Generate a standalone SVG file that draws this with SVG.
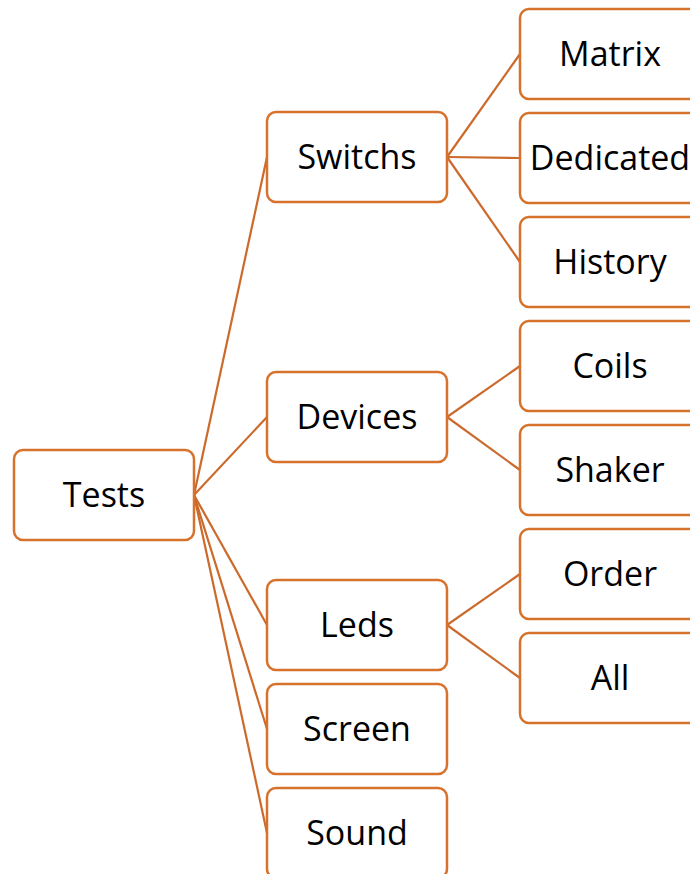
<svg xmlns="http://www.w3.org/2000/svg" width="690" height="874" viewBox="0 0 690 874">
  <style>
    .box { fill: #FFFFFF; stroke: #D6722C; stroke-width: 2.5; }
    .lbl { font-family: "Open Sans", "Liberation Sans", sans-serif; font-size: 34px; fill: #000000; text-anchor: middle; }
    .link { stroke: #CB6A2B; stroke-width: 2.2; fill: none; }
  </style>
  <rect width="690" height="874" fill="#FFFFFF"/>

  <!-- tree connectors -->
  <g id="connectors">
    <line class="link" x1="194" y1="495" x2="267" y2="157"/>
    <line class="link" x1="194" y1="495" x2="267" y2="417"/>
    <line class="link" x1="194" y1="495" x2="267" y2="625"/>
    <line class="link" x1="194" y1="495" x2="267" y2="729"/>
    <line class="link" x1="194" y1="495" x2="267" y2="833"/>
    <line class="link" x1="447" y1="157" x2="520" y2="54"/>
    <line class="link" x1="447" y1="157" x2="520" y2="158"/>
    <line class="link" x1="447" y1="157" x2="520" y2="262"/>
    <line class="link" x1="447" y1="417" x2="520" y2="366"/>
    <line class="link" x1="447" y1="417" x2="520" y2="470"/>
    <line class="link" x1="447" y1="625" x2="520" y2="574"/>
    <line class="link" x1="447" y1="625" x2="520" y2="678"/>
  </g>

  <!-- root -->
  <g id="tests"><rect class="box" x="14" y="450" width="180" height="90" rx="9"/><text class="lbl" x="104" y="507">Tests</text></g>

  <!-- second level -->
  <g id="switchs"><rect class="box" x="267" y="112" width="180" height="90" rx="9"/><text class="lbl" x="357" y="169">Switchs</text></g>
  <g id="devices"><rect class="box" x="267" y="372" width="180" height="90" rx="9"/><text class="lbl" x="357" y="429">Devices</text></g>
  <g id="leds"><rect class="box" x="267" y="580" width="180" height="90" rx="9"/><text class="lbl" x="357" y="637">Leds</text></g>
  <g id="screen"><rect class="box" x="267" y="684" width="180" height="90" rx="9"/><text class="lbl" x="357" y="741">Screen</text></g>
  <g id="sound"><rect class="box" x="267" y="788" width="180" height="90" rx="9"/><text class="lbl" x="357" y="845">Sound</text></g>

  <!-- third level -->
  <g id="matrix"><rect class="box" x="520" y="9" width="180" height="90" rx="9"/><text class="lbl" x="610" y="66">Matrix</text></g>
  <g id="dedicated"><rect class="box" x="520" y="113" width="180" height="90" rx="9"/><text class="lbl" x="610" y="170">Dedicated</text></g>
  <g id="history"><rect class="box" x="520" y="217" width="180" height="90" rx="9"/><text class="lbl" x="610" y="274">History</text></g>
  <g id="coils"><rect class="box" x="520" y="321" width="180" height="90" rx="9"/><text class="lbl" x="610" y="378">Coils</text></g>
  <g id="shaker"><rect class="box" x="520" y="425" width="180" height="90" rx="9"/><text class="lbl" x="610" y="482">Shaker</text></g>
  <g id="order"><rect class="box" x="520" y="529" width="180" height="90" rx="9"/><text class="lbl" x="610" y="586">Order</text></g>
  <g id="all"><rect class="box" x="520" y="633" width="180" height="90" rx="9"/><text class="lbl" x="610" y="690">All</text></g>
</svg>
